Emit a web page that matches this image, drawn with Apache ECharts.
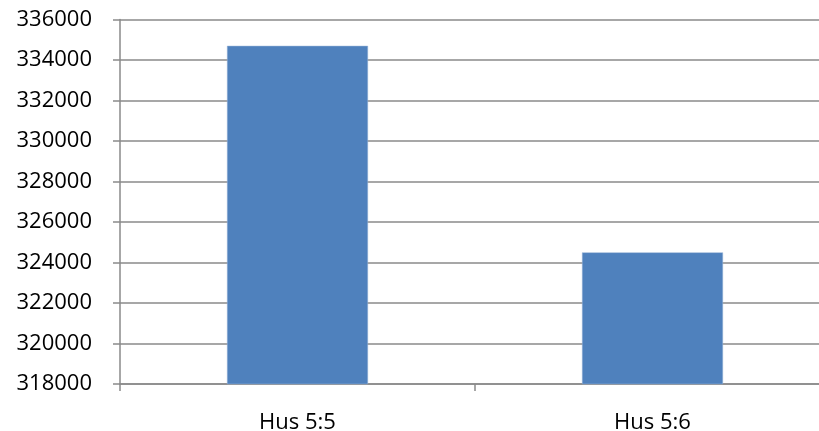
<!DOCTYPE html>
<html>
<head>
<meta charset="utf-8">
<style>
  html, body { margin: 0; padding: 0; background: #fff; overflow: hidden; }
  #chart { width: 819px; height: 431px; overflow: hidden; }
</style>
<script src="https://cdn.jsdelivr.net/npm/echarts@6/dist/echarts.min.js"></script>
</head>
<body>
<div id="chart"></div>
<script>
// Categories and values for the two houses
const categories = ['Hus 5:5', 'Hus 5:6'];
const values = [334700, 324500];

// Value axis range
const yMin = 318000;
const yMax = 336000;
const yStep = 2000;

const chart = echarts.init(document.getElementById('chart'), null, { renderer: 'canvas' });

chart.setOption({
  animation: false,
  backgroundColor: '#ffffff',
  textStyle: { fontFamily: 'Open Sans' },
  // plot area runs a little past the right edge of the canvas
  grid: {
    left: 120, width: 710, top: 19.5, height: 364.5,
    containLabel: false, outerBoundsMode: 'none'
  },
  xAxis: {
    type: 'category',
    data: categories,
    axisLine: { show: true, lineStyle: { color: '#8a8a8a', width: 1.5 } },
    axisTick: { show: true, length: 7, alignWithLabel: false, lineStyle: { color: '#8a8a8a', width: 1.5 } },
    axisLabel: { color: '#000', fontSize: 22, margin: 28, fontFamily: 'Open Sans' },
    splitLine: { show: false }
  },
  yAxis: {
    type: 'value',
    min: yMin,
    max: yMax,
    interval: yStep,
    axisLine: { show: true, lineStyle: { color: '#8a8a8a', width: 1.5 } },
    axisTick: { show: true, length: 7, lineStyle: { color: '#8a8a8a', width: 1.5 } },
    axisLabel: {
      color: '#000', fontSize: 22, margin: 28, fontFamily: 'Open Sans',
      formatter: (v) => String(v)
    },
    splitLine: { show: true, lineStyle: { color: '#8a8a8a', width: 1.5 } }
  },
  series: [{
    type: 'bar',
    data: values,
    barWidth: 141,
    itemStyle: { color: '#4f81bd', borderColor: '#9bb6d8', borderWidth: 0.5 }
  }]
});
</script>
</body>
</html>
